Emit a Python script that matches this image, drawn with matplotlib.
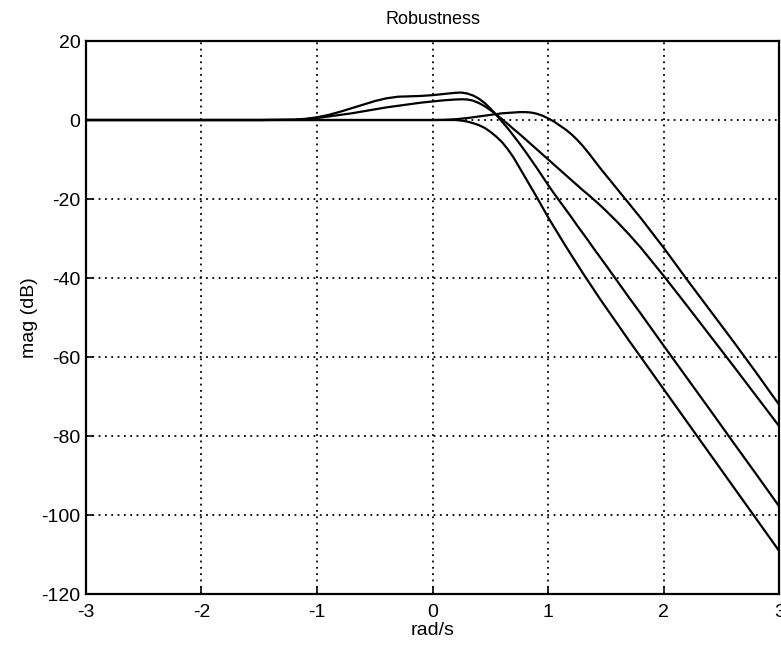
import matplotlib

matplotlib.use("Agg")
import matplotlib.pyplot as plt  # noqa: E402

plt.rcParams["font.family"] = ["Liberation Sans", "DejaVu Sans"]
plt.rcParams["axes.unicode_minus"] = False

# ---------------- data: log10(w) vs magnitude (dB) ----------------
logw = [-3.0, -2.0, -1.5, -1.2, -1.1, -1.0, -0.9, -0.8, -0.7, -0.6, -0.5,
        -0.4, -0.3, -0.2, -0.1, 0.0, 0.1,
        0.2, 0.25, 0.3, 0.35, 0.4, 0.45, 0.5, 0.55, 0.6, 0.65, 0.7, 0.75,
        0.8, 0.85, 0.9, 0.95, 1.0, 1.05, 1.1, 1.15, 1.2, 1.25, 1.3, 1.35,
        1.4, 1.45, 1.5, 1.6, 1.7, 1.8, 2.0, 2.2, 2.4, 2.6, 2.8, 3.0]

mag_peak_hi = [0.0, 0.0, 0.0, 0.1, 0.3, 0.7, 1.3, 2.1, 3.0, 3.9, 4.8,
               5.5, 5.9, 6.0, 6.1, 6.3, 6.6,
               6.9, 6.95, 6.7, 6.2, 5.4, 4.3, 2.9, 1.3, -0.4, -2.1, -4.0, -5.9,
               -7.9, -10.0, -12.1, -14.3, -16.5, -18.6, -20.6, -22.6, -24.6, -26.7, -28.7, -30.7,
               -32.8, -34.8, -36.8, -40.9, -45.0, -49.0, -57.2, -65.3, -73.4, -81.6, -89.7, -97.9]

mag_peak_lo = [0.0, 0.0, 0.0, 0.05, 0.2, 0.5, 0.9, 1.3, 1.7, 2.2, 2.7,
               3.2, 3.6, 4.0, 4.4, 4.7, 5.0,
               5.2, 5.25, 5.2, 4.9, 4.3, 3.5, 2.5, 1.4, 0.2, -1.0, -2.3, -3.5,
               -4.8, -6.1, -7.4, -8.7, -10.0, -11.3, -12.6, -13.9, -15.2, -16.5, -17.8, -19.0,
               -20.3, -21.6, -23.0, -25.9, -29.0, -32.3, -39.5, -47.0, -54.6, -62.2, -69.9, -77.6]

mag_shoulder = [0.0, 0.0, 0.0, 0.0, 0.0, 0.0, 0.0, 0.0, 0.0, 0.0, 0.0,
                0.0, 0.0, 0.0, 0.0, 0.0, 0.05,
                0.2, 0.35, 0.5, 0.7, 0.9, 1.1, 1.3, 1.5, 1.7, 1.8, 1.9, 2.0,
                2.0, 1.9, 1.6, 1.1, 0.4, -0.4, -1.4, -2.4, -3.6, -5.0, -6.6, -8.4,
                -10.3, -12.2, -14.0, -17.6, -21.2, -24.8, -32.4, -40.4, -48.2, -56.0, -64.0, -72.2]

mag_nominal = [0.0, 0.0, 0.0, 0.0, 0.0, 0.0, 0.0, 0.0, 0.0, 0.0, 0.0,
               0.0, 0.0, 0.0, 0.0, 0.0, 0.0,
               0.0, -0.15, -0.4, -0.8, -1.3, -2.0, -3.0, -4.2, -5.6, -7.4, -9.5, -12.0,
               -14.5, -17.0, -19.5, -22.1, -24.7, -27.1, -29.5, -31.9, -34.2, -36.5, -38.8, -41.0,
               -43.2, -45.4, -47.5, -51.7, -55.9, -60.0, -68.2, -76.4, -84.6, -92.8, -101.0, -109.2]

xticks = [-3, -2, -1, 0, 1, 2, 3]
yticks = [20, 0, -20, -40, -60, -80, -100, -120]

# ---------------- figure ----------------
fig = plt.figure(figsize=(7.81, 6.48), dpi=100)
ax = fig.add_axes([0.110, 0.0833, 0.888, 0.8534])

for mag in (mag_peak_hi, mag_peak_lo, mag_shoulder, mag_nominal):
    ax.plot(logw, mag, color="black", lw=1.6, solid_joinstyle="round")

ax.set_xlim(-3, 3)
ax.set_ylim(-120, 20)
ax.set_xticks(xticks)
ax.set_yticks(yticks)
ax.grid(True, color="black", linestyle=(0, (1, 2.5)), linewidth=1.3)
ax.tick_params(direction="in", length=5, width=1.2, labelsize=14)
ax.tick_params(axis="x", pad=7)
ax.tick_params(axis="y", pad=4)
for sp in ax.spines.values():
    sp.set_linewidth(1.6)

ax.set_title("Robustness", fontsize=13, pad=12)
ax.set_xlabel("rad/s", fontsize=14, labelpad=1)
ax.set_ylabel("mag (dB)", fontsize=14, labelpad=2)

fig.savefig("out.png", dpi=100)
